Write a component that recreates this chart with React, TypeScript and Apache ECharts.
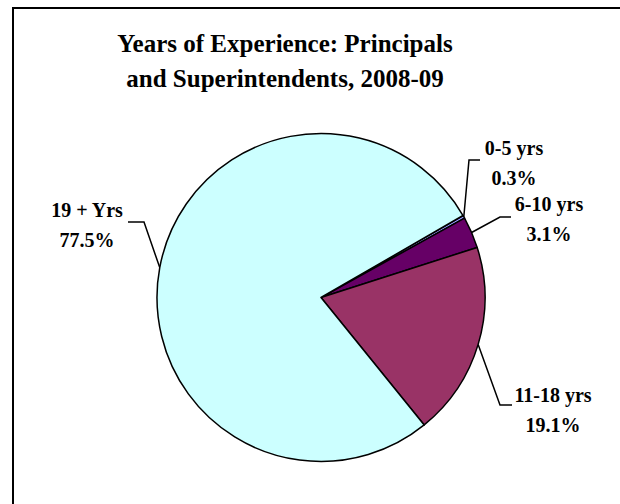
import React, { useEffect, useRef } from "react";
import * as echarts from "echarts";

const categories = ["0-5 yrs", "6-10 yrs", "11-18 yrs", "19 + Yrs"];
const values = [0.3, 3.1, 19.1, 77.5];
const colors = ["#9999FF", "#660066", "#993366", "#CCFFFF"];
const titleText = "Years of Experience: Principals\nand Superintendents, 2008-09";

// label placement (layout only)
const LABEL_LAYOUT = [
  { x: 514, y: 163, elbow: [469, 160], end: [480, 160] },
  { x: 549, y: 219, elbow: [500, 217], end: [511, 217] },
  { x: 553, y: 410, elbow: [500, 405], end: [512, 405] },
  { x: 87, y: 225, elbow: [144, 222], end: [128, 222] },
];

const FONT = "Liberation Serif";

export default function App() {
  const ref = useRef<HTMLDivElement>(null);
  useEffect(() => {
    document.body.style.margin = "0";
    const chart = echarts.init(ref.current!, null, { renderer: "svg" });
    chart.setOption({
      animation: false,
      backgroundColor: "#ffffff",
      textStyle: { fontFamily: FONT },
      graphic: [
        {
          type: "rect",
          shape: { x: 13, y: 8, width: 700, height: 600 },
          style: { fill: "none", stroke: "#000", lineWidth: 2 },
          silent: true,
        },
        {
          type: "text",
          x: 285,
          y: 26,
          style: {
            text: titleText,
            fill: "#000",
            fontFamily: FONT,
            fontWeight: "bold",
            fontSize: 25,
            lineHeight: 35,
            textAlign: "center",
            textVerticalAlign: "top",
          },
        },
      ],
      series: [
        {
          type: "pie",
          center: [321, 297.5],
          radius: 164,
          startAngle: 30,
          clockwise: true,
          avoidLabelOverlap: false,
          data: categories.map((name, i) => ({
            name,
            value: values[i],
            itemStyle: { color: colors[i] },
          })),
          itemStyle: { borderColor: "#000", borderWidth: 1.5 },
          emphasis: { disabled: true },
          label: {
            show: true,
            position: "outside",
            formatter: (p: any) => `${p.name}\n${p.value.toFixed(1)}%`,
            color: "#000",
            fontFamily: FONT,
            fontWeight: "bold",
            fontSize: 20,
            lineHeight: 30,
            align: "center",
          },
          labelLine: {
            show: true,
            length: 20,
            length2: 10,
            lineStyle: { color: "#000", width: 1.5 },
          },
          labelLayout: (params: any) => {
            const L = LABEL_LAYOUT[params.dataIndex];
            const anchor = params.labelLinePoints ? params.labelLinePoints[0] : L.elbow;
            return {
              x: L.x,
              y: L.y,
              align: "center",
              verticalAlign: "middle",
              labelLinePoints: [anchor, L.elbow, L.end],
            };
          },
        },
      ],
    });
    return () => chart.dispose();
  }, []);
  return <div ref={ref} style={{ width: 620, height: 504 }} />;
}
